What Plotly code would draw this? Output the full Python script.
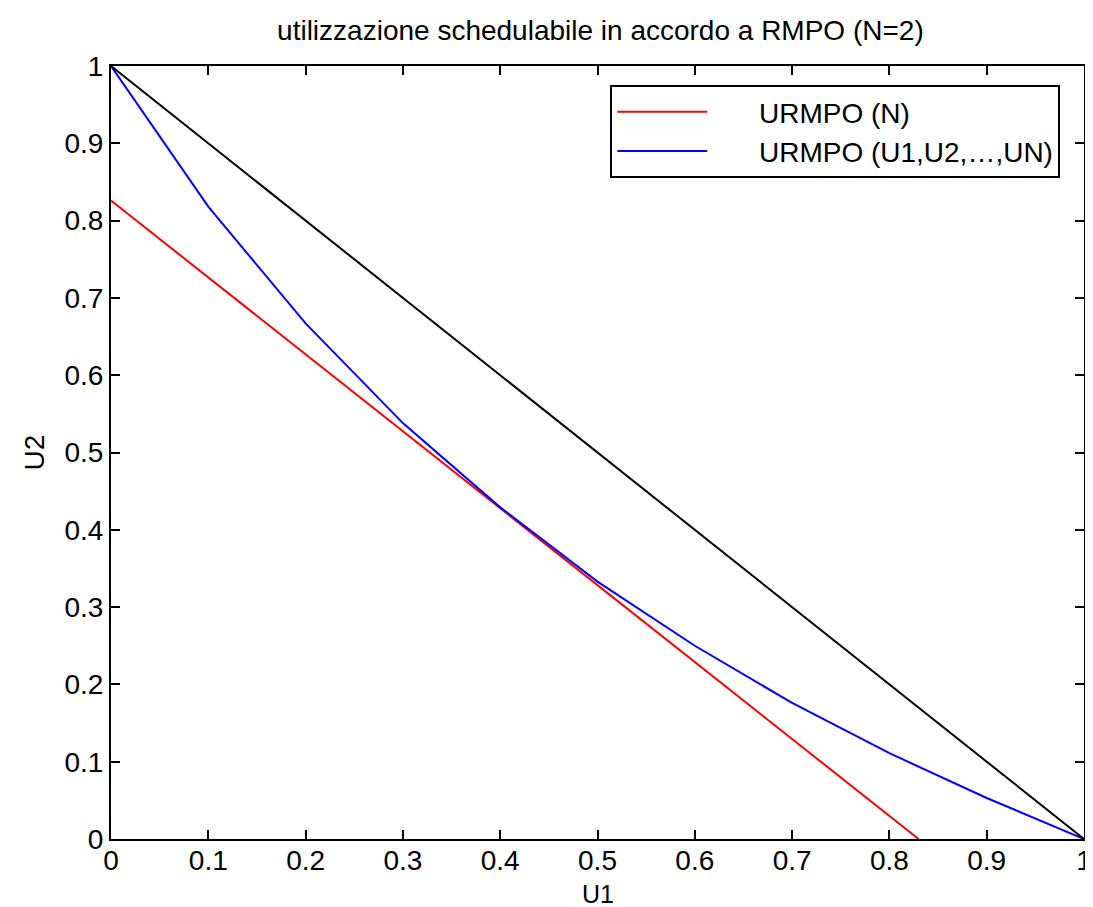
import plotly.graph_objects as go

# valori
u1_blue = [0, 0.1, 0.2, 0.3, 0.4, 0.5, 0.6, 0.7, 0.8, 0.9, 1.0]
u2_blue = [1.0, 0.818, 0.667, 0.538, 0.429, 0.333, 0.25, 0.176, 0.111, 0.053, 0.0]

u1_red = [0, 0.83]
u2_red = [0.826, 0]

u1_black = [0, 1]
u2_black = [1, 0]

font = "Liberation Sans, Arial, sans-serif"
gap = "\u00a0" * 6  # spazio tra linea e testo nella legenda

fig = go.Figure()
fig.add_trace(go.Scatter(x=u1_red, y=u2_red, mode="lines", name=gap + "URMPO (N)",
                         line=dict(color="#ff0000", width=2), cliponaxis=False))
fig.add_trace(go.Scatter(x=u1_blue, y=u2_blue, mode="lines", name=gap + "URMPO (U1,U2,…,UN)",
                         line=dict(color="#0000ff", width=2)))
fig.add_trace(go.Scatter(x=u1_black, y=u2_black, mode="lines", showlegend=False,
                         line=dict(color="#000000", width=2)))

axis_style = dict(
    range=[0, 1], dtick=0.1, showgrid=False, zeroline=False,
    showline=True, linecolor="black", linewidth=2, mirror="ticks",
    ticks="inside", ticklen=9, tickwidth=1.5, tickcolor="black",
    tickfont=dict(family=font, size=28, color="black"),
    tickformat="~g",
)

fig.update_xaxes(**axis_style, ticklabelstandoff=-5)
fig.update_yaxes(**axis_style, title=dict(text="U2", font=dict(family=font, size=28, color="black"), standoff=12))

# titolo asse x come annotazione (più vicino alle etichette)
fig.add_annotation(text="U1", xref="paper", yref="paper", x=0.5, y=-0.071,
                   xanchor="center", yanchor="middle", showarrow=False,
                   font=dict(family=font, size=25, color="black"))

fig.update_layout(
    width=1093, height=907,
    plot_bgcolor="white", paper_bgcolor="white",
    margin=dict(l=103, r=9, t=58, b=76),
    title=dict(text="utilizzazione schedulabile in accordo a RMPO (N=2)",
               x=0.542, xanchor="center", y=0.976, yanchor="middle",
               font=dict(family=font, size=28, color="black")),
    legend=dict(x=0.9756, xanchor="right", y=0.9754, yanchor="top",
                bgcolor="white", bordercolor="black", borderwidth=2,
                font=dict(family=font, size=28, color="black"),
                itemwidth=90, tracegroupgap=0),
    showlegend=True,
)

fig.write_html("out.html")
